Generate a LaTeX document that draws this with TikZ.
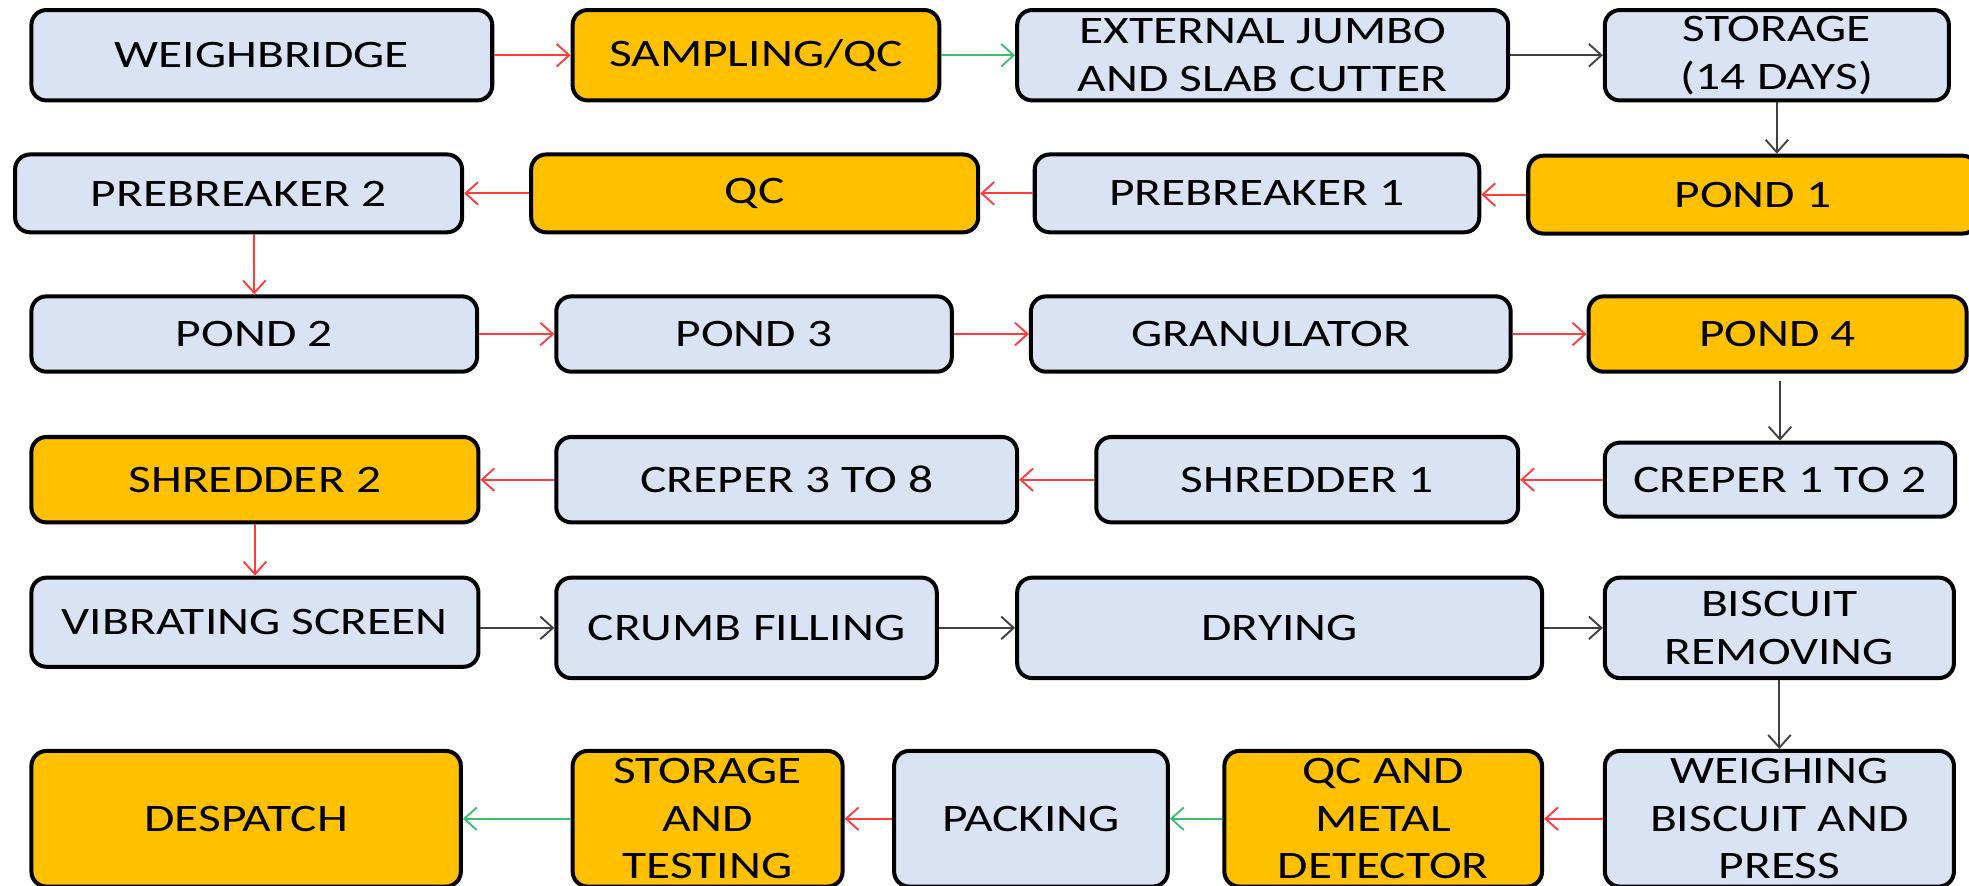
\documentclass[tikz,border=0pt]{standalone}
\usepackage{fontspec}
\setmainfont[FakeStretch=1.27]{Carlito}
\usetikzlibrary{arrows.meta}
\definecolor{boxblue}{HTML}{DAE3F3}
\definecolor{boxorange}{HTML}{FFC000}
\definecolor{arrred}{HTML}{FF3B3B}
\definecolor{arrgreen}{HTML}{3DBE6F}
\definecolor{arrgray}{HTML}{404040}
\tikzset{
  box/.style={draw=black, line width=1.6pt, rounded corners=6pt, align=center,
    inner sep=0pt, font=\fontsize{15.5pt}{19pt}\selectfont, text=black},
  bluebox/.style={box, fill=boxblue},
  orangebox/.style={box, fill=boxorange},
  arr/.style={-{Straight Barb[length=5pt,width=9pt]}, line width=0.75pt},
  redarr/.style={arr, draw=arrred},
  greenarr/.style={arr, draw=arrgreen},
  grayarr/.style={arr, draw=arrgray},
}
\begin{document}
\begin{tikzpicture}[x=0.5pt,y=-0.5pt]
\useasboundingbox (0,0) rectangle (1568,705);
\clip (0,0) rectangle (1568,705);
% Row 1
\node[bluebox, minimum width=183.5pt, minimum height=36pt] (wb) at (208.5,44) {WEIGHBRIDGE};
\node[orangebox, minimum width=146pt, minimum height=36pt] (samp) at (602,44) {SAMPLING/QC};
\node[bluebox, minimum width=195.5pt, minimum height=36pt] (ext) at (1005.5,44) {EXTERNAL JUMBO\\AND SLAB CUTTER};
\node[bluebox, minimum width=137pt, minimum height=36pt] (stor) at (1415,44) {STORAGE\\(14 DAYS)};
% Row 2
\node[bluebox, minimum width=178pt, minimum height=31pt] (preb2) at (190,154) {PREBREAKER 2};
\node[orangebox, minimum width=178pt, minimum height=31pt] (qc) at (601,154) {QC};
\node[bluebox, minimum width=177pt, minimum height=31pt] (preb1) at (1001,154) {PREBREAKER 1};
\node[orangebox, minimum width=179pt, minimum height=31pt] (pond1) at (1396,155) {POND 1};
% Row 3
\node[bluebox, minimum width=177.5pt, minimum height=30pt] (pond2) at (202.5,266) {POND 2};
\node[bluebox, minimum width=157.5pt, minimum height=30pt] (pond3) at (600.5,266) {POND 3};
\node[bluebox, minimum width=191pt, minimum height=30pt] (gran) at (1012,266) {GRANULATOR};
\node[orangebox, minimum width=150.5pt, minimum height=30pt] (pond4) at (1415.5,266) {POND 4};
% Row 4
\node[orangebox, minimum width=178pt, minimum height=34pt] (shr2) at (203,382) {SHREDDER 2};
\node[bluebox, minimum width=183.5pt, minimum height=34pt] (crep38) at (626.5,382) {CREPER 3 TO 8};
\node[bluebox, minimum width=168pt, minimum height=34pt] (shr1) at (1041,382) {SHREDDER 1};
\node[bluebox, minimum width=139.5pt, minimum height=29.5pt] (crep12) at (1417.5,382) {CREPER 1 TO 2};
% Row 5
\node[bluebox, minimum width=178pt, minimum height=35.5pt] (vib) at (203,495.5) {VIBRATING SCREEN};
\node[bluebox, minimum width=151.5pt, minimum height=40pt] (crumb) at (594.5,500) {CRUMB FILLING};
\node[bluebox, minimum width=209pt, minimum height=40pt] (dry) at (1019,500) {DRYING};
\node[bluebox, minimum width=139pt, minimum height=40pt] (bisc) at (1417,500) {BISCUIT\\REMOVING};
% Row 6
\node[orangebox, minimum width=171pt, minimum height=54pt] (desp) at (196,652) {DESPATCH};
\node[orangebox, minimum width=107.5pt, minimum height=54pt] (sat) at (563.5,652) {STORAGE\\AND\\TESTING};
\node[bluebox, minimum width=109pt, minimum height=54pt] (pack) at (821,652) {PACKING};
\node[orangebox, minimum width=126.5pt, minimum height=54pt] (qcmd) at (1101.5,652) {QC AND\\METAL\\DETECTOR};
\node[bluebox, minimum width=139pt, minimum height=54pt] (weigh) at (1417,652) {WEIGHING\\BISCUIT AND\\PRESS};
% Connectors
\draw[redarr] (wb.east) -- (samp.west);
\draw[greenarr] (samp.east) -- (ext.west);
\draw[grayarr] (ext.east) -- (stor.west);
\draw[grayarr] (stor.south) -- (stor.south |- pond1.north);
\draw[redarr] (pond1.west) -- (pond1.west -| preb1.east);
\draw[redarr] (preb1.west) -- (preb1.west -| qc.east);
\draw[redarr] (qc.west) -- (qc.west -| preb2.east);
\draw[redarr] (pond2.north |- preb2.south) -- (pond2.north);
\draw[redarr] (pond2.east) -- (pond3.west);
\draw[redarr] (pond3.east) -- (gran.west);
\draw[redarr] (gran.east) -- (pond4.west);
\draw[grayarr, shorten <=3pt] (crep12.north |- pond4.south) -- (crep12.north);
\draw[redarr] (crep12.west) -- (crep12.west -| shr1.east);
\draw[redarr] (shr1.west) -- (shr1.west -| crep38.east);
\draw[redarr] (crep38.west) -- (crep38.west -| shr2.east);
\draw[redarr] (shr2.south) -- (shr2.south |- vib.north);
\draw[grayarr] (crumb.west -| vib.east) -- (crumb.west);
\draw[grayarr] (crumb.east) -- (dry.west);
\draw[grayarr] (dry.east) -- (bisc.west);
\draw[grayarr] (bisc.south) -- (weigh.north);
\draw[redarr] (weigh.west) -- (qcmd.east);
\draw[greenarr] (qcmd.west) -- (pack.east);
\draw[redarr] (pack.west) -- (sat.east);
\draw[greenarr] (sat.west) -- (desp.east);
\end{tikzpicture}
\end{document}
